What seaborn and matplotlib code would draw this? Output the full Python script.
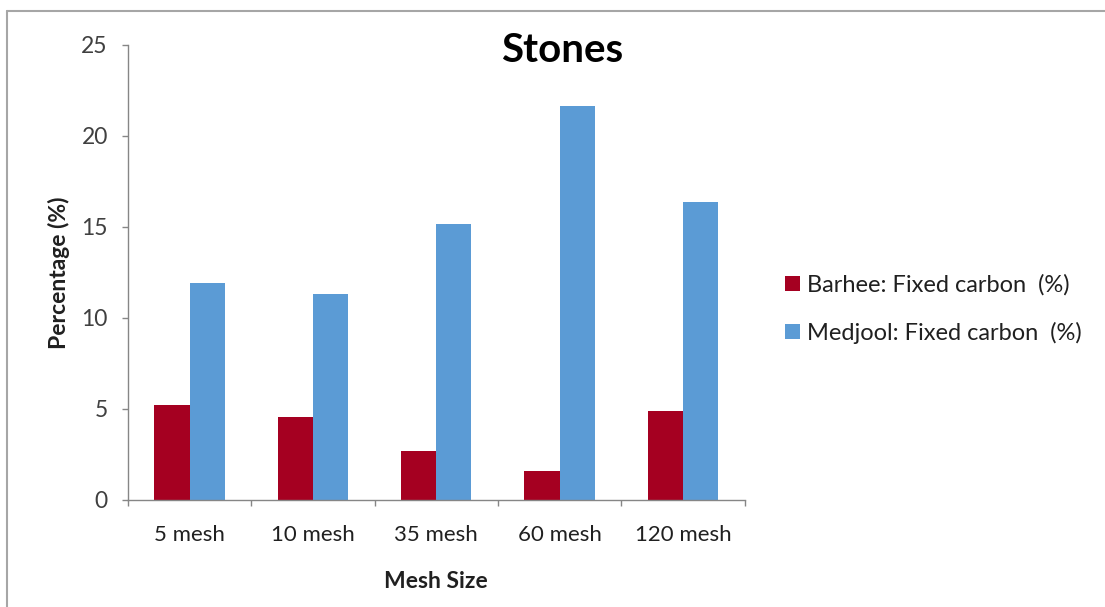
import numpy as np
import pandas as pd
import matplotlib
matplotlib.use("Agg")
import matplotlib.pyplot as plt
from matplotlib.patches import Patch
from matplotlib.lines import Line2D
import seaborn as sns

categories = ["5 mesh", "10 mesh", "35 mesh", "60 mesh", "120 mesh"]
barhee = [5.22, 4.58, 2.69, 1.59, 4.89]
medjool = [11.94, 11.30, 15.15, 21.66, 16.36]
series_names = ["Barhee: Fixed carbon  (%)", "Medjool: Fixed carbon  (%)"]
colors = ["#A50021", "#5B9BD5"]

df = pd.DataFrame({
    "Mesh": categories * 2,
    "Value": barhee + medjool,
    "Series": [series_names[0]] * len(categories) + [series_names[1]] * len(categories),
})

sns.set_theme(style="white")
plt.rcParams["font.family"] = ["Lato", "DejaVu Sans"]

fig = plt.figure(figsize=(11.05, 6.07), dpi=100)
ax = fig.add_axes([0.1158, 0.1763, 0.558, 0.7496])

sns.barplot(data=df, x="Mesh", y="Value", hue="Series", order=categories,
            hue_order=series_names, palette=colors, saturation=1,
            width=0.57, linewidth=0, ax=ax, legend=False)

ax.set_xlim(-0.5, len(categories) - 0.5)
ax.set_ylim(0, 25)
ax.set_yticks([0, 5, 10, 15, 20, 25])
ax.set_yticklabels(["0", "5", "10", "15", "20", "25"], fontsize=16.5, color="#404040")

# Category boundaries carry the tick marks; labels sit at the centers
ax.set_xticks(np.arange(-0.5, len(categories), 1.0))
ax.set_xticklabels([])
ax.set_xticks(np.arange(len(categories)), minor=True)
ax.set_xticklabels(categories, minor=True, fontsize=16, color="#202020")
ax.tick_params(axis="x", which="major", length=4.5, width=1, color="#868686", direction="out", bottom=True)
ax.tick_params(axis="x", which="minor", length=0, pad=18)
ax.tick_params(axis="y", length=4.5, width=1, color="#868686", direction="out", left=True, pad=10)

for side in ["top", "right"]:
    ax.spines[side].set_visible(False)
for side in ["left", "bottom"]:
    ax.spines[side].set_color("#868686")
    ax.spines[side].set_linewidth(1)

ax.set_xlabel("Mesh Size", fontsize=16.5, fontweight="bold", labelpad=19, color="#202020")
ax.set_ylabel("Percentage (%)", fontsize=16.5, fontweight="bold", labelpad=8, color="#202020")
ax.grid(False)

fig.text(0.509, 1 - 50 / 607, "Stones", ha="center", va="center", fontsize=29, fontweight="bold", color="black")

handles = [Patch(facecolor=c, edgecolor="none") for c in colors]
fig.legend(handles, series_names, loc="center left", bbox_to_anchor=(785 / 1105, 1 - 309 / 607),
           frameon=False, fontsize=17, handlelength=0.64, handleheight=0.64,
           handletextpad=0.3, labelspacing=1.1, borderpad=0, borderaxespad=0,
           labelcolor="#202020")

# Chart-area outline
fig.add_artist(Line2D([7 / 1105, 1.0], [1 - 11 / 607, 1 - 11 / 607], transform=fig.transFigure,
                      color="#A6A6A6", linewidth=1.5))
fig.add_artist(Line2D([7 / 1105, 7 / 1105], [0, 1 - 11 / 607], transform=fig.transFigure,
                      color="#A6A6A6", linewidth=1.5))

fig.savefig("out.png", dpi=100, facecolor="white")
